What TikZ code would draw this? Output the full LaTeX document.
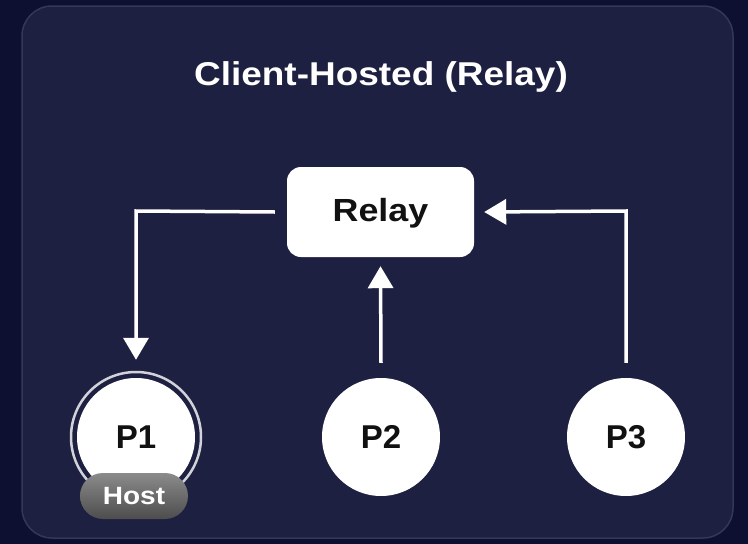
\documentclass[tikz,border=0pt]{standalone}
\usepackage{fontspec}
\setmainfont{Liberation Sans}
\newfontfamily\widesans[FakeStretch=1.12]{Liberation Sans}
\usetikzlibrary{arrows.meta}
\definecolor{bgout}{HTML}{0D1030}
\definecolor{panel}{HTML}{1D2040}
\definecolor{panelborder}{HTML}{343857}
\definecolor{hostgray}{HTML}{6E6E6E}
\definecolor{ink}{HTML}{111111}
\tikzset{
  every node/.style={font=\bfseries},
  peer/.style={circle, fill=white, minimum size=118pt, inner sep=0pt, text=ink, font=\fontsize{33}{33}\selectfont\bfseries},
  relaybox/.style={rounded corners=14pt, fill=white, minimum width=187pt, minimum height=90pt, text=ink, text height=23pt, text depth=4pt, font=\widesans\fontsize{32}{32}\selectfont\bfseries},
  link/.style={draw=white, line width=3.5pt, -{Triangle[length=22pt,width=25pt]}},
  hostbadge/.style={rounded corners=23pt, minimum width=108pt, minimum height=46pt, inner sep=0pt, top color=hostgray!80!white, bottom color=hostgray!70!black, text=white, font=\widesans\fontsize{25}{25}\selectfont\bfseries}
}
\begin{document}
\begin{tikzpicture}[x=1pt,y=-1pt]
\fill[bgout] (0,0) rectangle (748,544);
\useasboundingbox (0,0) rectangle (748,544);
\draw[panelborder, fill=panel, line width=1.5pt, rounded corners=30pt] (22,6) rectangle (733,538);
\node[text=white, font=\widesans\fontsize{33}{33}\selectfont\bfseries] (title) at (381,77) {Client-Hosted (Relay)};
\node[relaybox] (relay) at (380.5,212) {Relay};
\node[peer] (p1) at (136,437) {P1};
\node[peer] (p2) at (381,437) {P2};
\node[peer] (p3) at (626,437) {P3};
\draw[white!80!panel, line width=2.5pt] (p1.center) circle (65);
\node[hostbadge] (host) at (134,496) {Host};
\coordinate (lcorner) at (136,211);
\coordinate (rcorner) at (626,211);
\draw[link] (relay.west) ++(-12,0) -- (lcorner) -- ([yshift=18]p1.north);
\draw[link] ([yshift=15]p2.north) -- ([yshift=-9]relay.south);
\draw[link] ([yshift=15]p3.north) -- (rcorner) -- ([xshift=10]relay.east);
\end{tikzpicture}
\end{document}
